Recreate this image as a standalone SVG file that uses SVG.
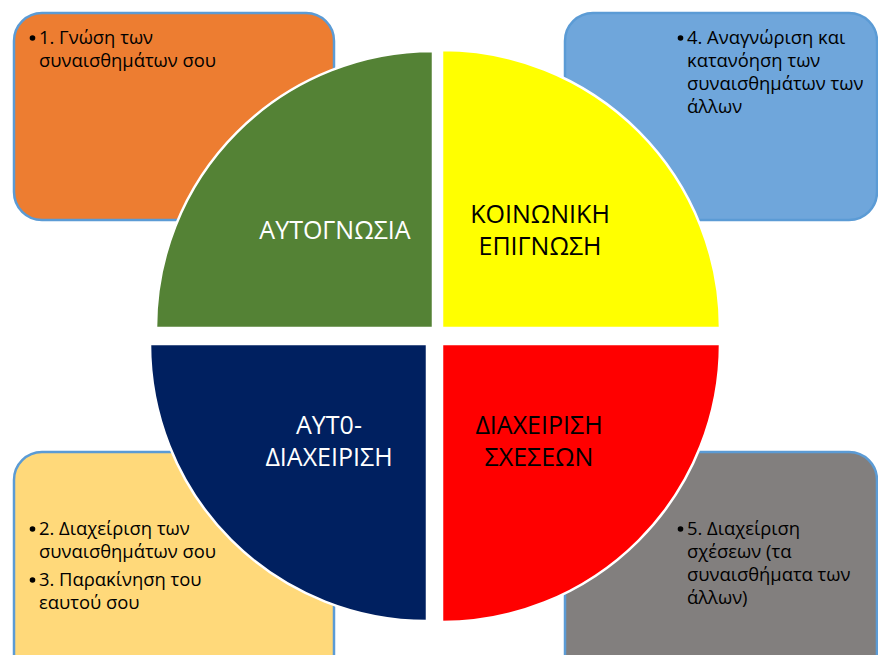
<svg xmlns="http://www.w3.org/2000/svg" width="878" height="655" viewBox="0 0 878 655">
<style>
.box{stroke:#5B9BD5;stroke-width:2.5}
.q{stroke:#FFFFFF;stroke-width:2.5}
.t{font-family:"Open Sans","Noto Sans",sans-serif;font-size:18.4px;fill:#000}
.b{fill:#000}
.big{font-family:"Open Sans","Noto Sans",sans-serif;font-size:25px;text-anchor:middle}
</style>
<rect width="878" height="655" fill="#FFFFFF"/>
<g id="box1">
<rect class="box" x="14" y="13" width="320" height="207" rx="28" fill="#ED7D31"/>
<circle class="b" cx="32.5" cy="38" r="2.8"/>
<text class="t" x="39" y="44">1. Γνώση των</text>
<text class="t" x="39" y="67">συναισθημάτων σου</text>
</g>
<g id="box4">
<rect class="box" x="565" y="13" width="312" height="207" rx="28" fill="#6FA6DB"/>
<circle class="b" cx="680.5" cy="38" r="2.8"/>
<text class="t" x="687" y="44">4. Αναγνώριση και</text>
<text class="t" x="687" y="67">κατανόηση των</text>
<text class="t" x="687" y="90">συναισθημάτων των</text>
<text class="t" x="687" y="113">άλλων</text>
</g>
<g id="box2">
<rect class="box" x="14" y="452" width="320" height="230" rx="28" fill="#FFD97A"/>
<circle class="b" cx="32.5" cy="529" r="2.8"/>
<text class="t" x="39" y="535">2. Διαχείριση των</text>
<text class="t" x="39" y="558">συναισθημάτων σου</text>
<circle class="b" cx="32.5" cy="580" r="2.8"/>
<text class="t" x="39" y="586">3. Παρακίνηση του</text>
<text class="t" x="39" y="609">εαυτού σου</text>
</g>
<g id="box5">
<rect class="box" x="565" y="452" width="312" height="230" rx="28" fill="#827F7E"/>
<circle class="b" cx="680.5" cy="529" r="2.8"/>
<text class="t" x="687" y="535">5. Διαχείριση</text>
<text class="t" x="687" y="558">σχέσεων (τα</text>
<text class="t" x="687" y="581">συναισθήματα των</text>
<text class="t" x="687" y="604">άλλων)</text>
</g>
<g id="q-autognosia">
<path class="q" d="M433,328 L156,328 A277,277 0 0 1 433,51 Z" fill="#548235"/>
<text class="big" x="335" y="239" fill="#FFFFFF">ΑΥΤΟΓΝΩΣΙΑ</text>
</g>
<g id="q-koinoniki">
<path class="q" d="M442,328 L442,50 A278,278 0 0 1 720,328 Z" fill="#FFFF00"/>
<text class="big" x="540" y="223" fill="#000000">ΚΟΙΝΩΝΙΚΗ</text>
<text class="big" x="540" y="255" fill="#000000">ΕΠΙΓΝΩΣΗ</text>
</g>
<g id="q-autodiaxeirisi">
<path class="q" d="M427,344 L150,344 A277,277 0 0 0 427,621 Z" fill="#002060"/>
<text class="big" x="329" y="434" fill="#FFFFFF">ΑΥΤ0-</text>
<text class="big" x="329" y="466" fill="#FFFFFF">ΔΙΑΧΕΙΡΙΣΗ</text>
</g>
<g id="q-sxeseis">
<path class="q" d="M442,344 L720,344 A278,278 0 0 1 442,622 Z" fill="#FF0000"/>
<text class="big" x="539" y="434" fill="#000000">ΔΙΑΧΕΙΡΙΣΗ</text>
<text class="big" x="539" y="466" fill="#000000">ΣΧΕΣΕΩΝ</text>
</g>
<g id="connectors"/>
</svg>
